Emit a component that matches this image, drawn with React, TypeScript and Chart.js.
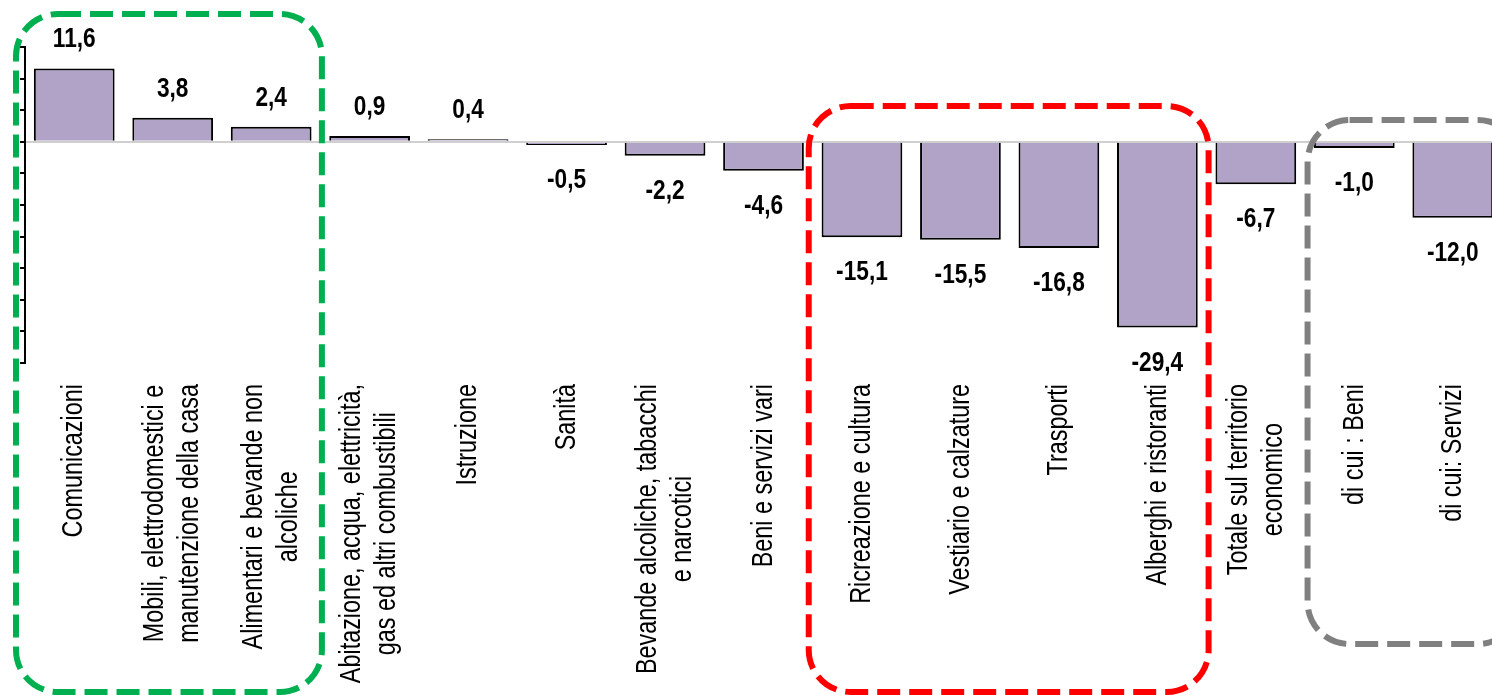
import React, { useEffect, useRef } from 'react';
import { Chart, registerables } from 'chart.js';

Chart.register(...registerables);

// ---- data ----
const categories: string[][] = [
  ['Comunicazioni'],
  ['Mobili, elettrodomestici e', 'manutenzione della casa'],
  ['Alimentari e bevande non', 'alcoliche'],
  ['Abitazione, acqua, elettricità,', 'gas ed altri combustibili'],
  ['Istruzione'],
  ['Sanità'],
  ['Bevande alcoliche, tabacchi', 'e narcotici'],
  ['Beni e servizi vari'],
  ['Ricreazione e cultura'],
  ['Vestiario e calzature'],
  ['Trasporti'],
  ['Alberghi e ristoranti'],
  ['Totale sul territorio', 'economico'],
  ['di cui : Beni'],
  ['di cui: Servizi'],
];
const values: number[] = [11.6, 3.8, 2.4, 0.9, 0.4, -0.5, -2.2, -4.6, -15.1, -15.5, -16.8, -29.4, -6.7, -1.0, -12.0];
const yMin = -35;
const yMax = 15;
const yStep = 5;

// groups highlighted by dashed rounded boxes (category index ranges)
const groupStarts: number[] = [0, 8, 13];
const groupEnds: number[] = [2, 11, 14];
const groupColors: string[] = ['#00B050', '#FF0000', '#808080'];

// ---- styles ----
const FONT = "'Liberation Sans', Arial, sans-serif";
const NARROW_LABEL = 0.78; // horizontal squeeze to mimic a narrow face
const NARROW_VALUE = 0.84;
const boxStyle = [
  { top: 14, bottom: 692, extL: 9, extR: 1.5 },
  { top: 106, bottom: 692, extL: 4, extR: 2 },
  { top: 120, bottom: 644, extL: -2.5, extR: 18 },
];

const fmt = (v: number) => v.toFixed(1).replace('.', ',');

const labelsPlugin = {
  id: 'customLabels',
  afterDatasetsDraw(chart: any) {
    const ctx = chart.ctx;
    const xs = chart.scales.x;
    const meta = chart.getDatasetMeta(0);
    ctx.save();
    // value labels
    ctx.fillStyle = '#000';
    ctx.font = `bold 27px ${FONT}`;
    ctx.textAlign = 'center';
    ctx.textBaseline = 'alphabetic';
    values.forEach((v, i) => {
      const bar = meta.data[i];
      const y = v >= 0 ? bar.y - 21 : bar.y + 43;
      ctx.save();
      ctx.translate(bar.x, y);
      ctx.scale(NARROW_VALUE, 1);
      ctx.fillText(fmt(v), 0, 0);
      ctx.restore();
    });
    // category labels (rotated)
    ctx.font = `30px ${FONT}`;
    const lh = 35;
    const yTop = chart.chartArea.bottom + 21;
    categories.forEach((lines, i) => {
      const x = xs.getPixelForValue(i);
      const w = Math.max(...lines.map((l) => ctx.measureText(l).width));
      ctx.save();
      ctx.translate(x, yTop);
      ctx.rotate(-Math.PI / 2);
      ctx.scale(NARROW_LABEL, 1);
      ctx.textAlign = 'center';
      ctx.textBaseline = 'middle';
      lines.forEach((l, k) => {
        const off = (k - (lines.length - 1) / 2) * lh;
        ctx.fillText(l, -w / 2, off);
      });
      ctx.restore();
    });
    ctx.restore();
  },
  afterDraw(chart: any) {
    const ctx = chart.ctx;
    const xs = chart.scales.x;
    const half = (xs.getPixelForValue(1) - xs.getPixelForValue(0)) / 2;
    groupStarts.forEach((s, gi) => {
      const st = boxStyle[gi];
      const l = xs.getPixelForValue(s) - half - st.extL;
      const r = xs.getPixelForValue(groupEnds[gi]) + half + st.extR;
      ctx.save();
      ctx.strokeStyle = groupColors[gi];
      ctx.lineWidth = 6;
      ctx.setLineDash([23, 9]);
      ctx.beginPath();
      ctx.roundRect(l, st.top, r - l, st.bottom - st.top, 42);
      ctx.stroke();
      ctx.restore();
    });
  },
};

export default function App() {
  const ref = useRef<HTMLCanvasElement>(null);
  useEffect(() => {
    if (!ref.current) return;
    const chart = new Chart(ref.current, {
      type: 'bar',
      data: {
        labels: categories.map((c) => c.join(' ')),
        datasets: [
          {
            data: values,
            backgroundColor: '#B1A3C8',
            borderColor: '#000000',
            borderWidth: 2,
            barPercentage: 0.82,
            categoryPercentage: 1,
          },
        ],
      },
      options: {
        responsive: false,
        animation: false,
        devicePixelRatio: 1,
        layout: { padding: { left: 20, top: 47, right: 0, bottom: 0 } },
        plugins: { legend: { display: false }, tooltip: { enabled: false } },
        scales: {
          x: {
            ticks: { display: false },
            grid: { display: false, drawTicks: false },
            border: { display: false },
            afterFit: (axis: any) => {
              axis.height = 336;
            },
          },
          y: {
            min: yMin,
            max: yMax,
            ticks: { display: false, stepSize: yStep },
            grid: {
              drawTicks: true,
              tickLength: 5,
              tickColor: '#000',
              tickWidth: 2,
              lineWidth: 2,
              color: (c: any) => (c.tick && c.tick.value === 0 ? '#D0D0D0' : 'rgba(0,0,0,0)'),
            },
            border: { display: true, color: '#000', width: 2 },
            afterFit: (axis: any) => {
              axis.width = 5;
            },
          },
        },
      },
      plugins: [labelsPlugin],
    });
    return () => chart.destroy();
  }, []);
  return (
    <div style={{ position: 'fixed', left: 0, top: 0, width: 1502, height: 699, background: '#fff' }}>
      <canvas ref={ref} width={1502} height={699} style={{ display: 'block' }} />
    </div>
  );
}
